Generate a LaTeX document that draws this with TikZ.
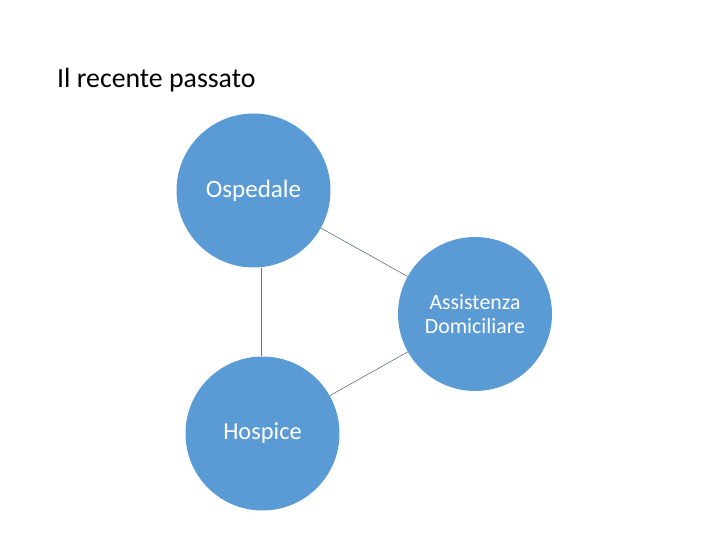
\documentclass[tikz,border=0pt]{standalone}
\usepackage{fontspec}
\setmainfont{Carlito}
\definecolor{bubble}{HTML}{5B9BD5}
\definecolor{linkc}{HTML}{5A6E86}
\begin{document}
\begin{tikzpicture}[x=1pt,y=-1pt,
  bubblenode/.style={circle,fill=bubble,draw=none,minimum size=154pt,inner sep=0pt,text=white,align=center},
  link/.style={draw=linkc,line width=0.6pt}]
\useasboundingbox (0,0) rectangle (720,540);
\node[anchor=base west,inner sep=0pt,font=\fontsize{27.8}{32}\selectfont] (title) at (57,88) {Il recente passato};
\node[bubblenode,font=\fontsize{25}{30}\selectfont] (osp) at (253.5,190.5) {Ospedale};
\node[bubblenode,font=\fontsize{21.8}{24}\selectfont] (ass) at (475,314) {Assistenza\\Domiciliare};
\node[bubblenode,font=\fontsize{24.4}{28}\selectfont] (hos) at (262.5,433.5) {Hospice};
\coordinate (vtop) at (261,267.5);
\coordinate (vbot) at (261,356);
\draw[link] (osp) -- (ass);
\draw[link] (vtop) -- (vbot);
\draw[link] (hos) -- (ass);
\end{tikzpicture}
\end{document}
